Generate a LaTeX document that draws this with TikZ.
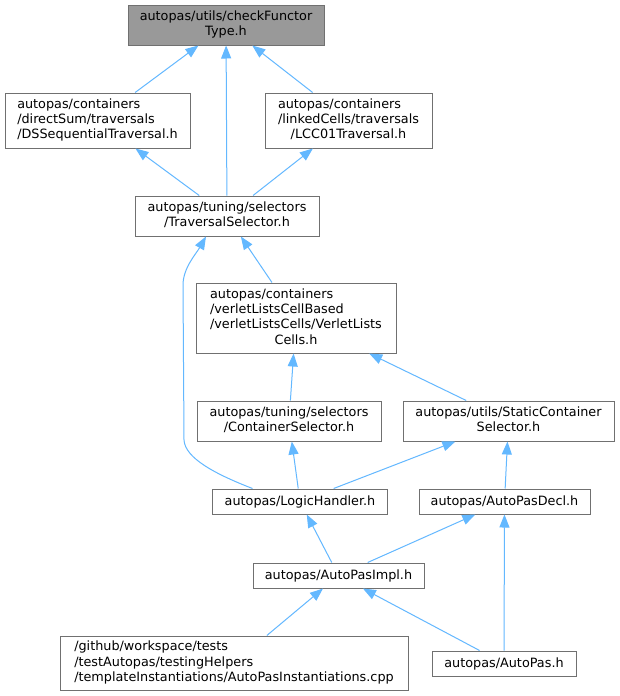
\documentclass[tikz,border=0pt]{standalone}
\usepackage{fontspec}
\setmainfont{DejaVu Sans}
\usetikzlibrary{arrows.meta,calc}
\definecolor{edgec}{HTML}{63B8FF}
\definecolor{boxc}{HTML}{707070}
\definecolor{topfill}{HTML}{999999}
\newcommand{\lft}[1]{\begin{tabular}{@{}l@{}}#1\end{tabular}}
\newcommand{\ctr}[1]{\begin{tabular}{@{}c@{}}#1\end{tabular}}
\newcommand{\mc}[1]{\multicolumn{1}{@{}c@{}}{#1}}
\begin{document}
\begin{tikzpicture}[x=1pt,y=-1pt,
  box/.style={draw=boxc,line width=1pt,fill=white,inner sep=0pt,
    font=\fontsize{12.8}{15.3}\selectfont},
  edge/.style={draw=edgec,line width=1pt,
    -{Triangle[length=13pt,width=10pt]}},
]
\path[use as bounding box,fill=white] (0,0) rectangle (620,696);

\node[box,fill=topfill,minimum width=196pt,minimum height=40pt] (cf) at (226,25)
  {\ctr{autopas/utils/checkFunctor\\Type.h}};
\node[box,minimum width=185pt,minimum height=55pt] (ds) at (97.5,120.5)
  {\lft{autopas/containers\\/directSum/traversals\\/DSSequentialTraversal.h}};
\node[box,minimum width=167pt,minimum height=55pt] (lcc) at (348.5,120.5)
  {\lft{autopas/containers\\/linkedCells/traversals\\\mc{/LCC01Traversal.h}}};
\node[box,minimum width=184pt,minimum height=40pt] (ts) at (227,216)
  {\ctr{autopas/tuning/selectors\\/TraversalSelector.h}};
\node[box,minimum width=200pt,minimum height=70pt] (vlc) at (296,318)
  {\lft{autopas/containers\\/verletListsCellBased\\/verletListsCells/VerletLists\\\mc{Cells.h}}};
\node[box,minimum width=184pt,minimum height=40pt] (cs) at (289,421)
  {\ctr{autopas/tuning/selectors\\/ContainerSelector.h}};
\node[box,minimum width=211pt,minimum height=40pt] (scs) at (508.5,421)
  {\ctr{autopas/utils/StaticContainer\\Selector.h}};
\node[box,minimum width=175pt,minimum height=25pt] (lh) at (300,501.5)
  {autopas/LogicHandler.h};
\node[box,minimum width=171pt,minimum height=25pt] (ad) at (504.5,501.5)
  {autopas/AutoPasDecl.h};
\node[box,minimum width=171pt,minimum height=25pt] (ai) at (338.5,575.5)
  {autopas/AutoPasImpl.h};
\node[box,minimum width=348pt,minimum height=54pt] (ins) at (234,663)
  {\lft{/github/workspace/tests\\/testAutopas/testingHelpers\\/templateInstantiations/AutoPasInstantiations.cpp}};
\node[box,minimum width=144pt,minimum height=25pt] (ap) at (504,663.5)
  {autopas/AutoPas.h};

\draw[edge] (ds) -- (cf);
\draw[edge] (ts) -- (cf);
\draw[edge] (lcc) -- (cf);
\draw[edge] (ts) -- (ds);
\draw[edge] (ts) -- (lcc);
\draw[edge] (vlc) -- (ts);
\draw[edge] ($(lh.north)+(-47.5,0)$) .. controls (215,474) and (185,458) .. (184,440)
  -- (183,285) .. controls (183,268) and (196,254) .. ($(ts.south)+(-21,0)$);
\draw[edge] (cs) -- (vlc);
\draw[edge] (scs) -- (vlc);
\draw[edge] (lh) -- (cs);
\draw[edge] (lh) -- (scs);
\draw[edge] (ad) -- (scs);
\draw[edge] (ai) -- (lh);
\draw[edge] (ai) -- (ad);
\draw[edge] (ap) -- (ad);
\draw[edge] (ins) -- (ai);
\draw[edge] (ap) -- (ai);
\end{tikzpicture}
\end{document}
